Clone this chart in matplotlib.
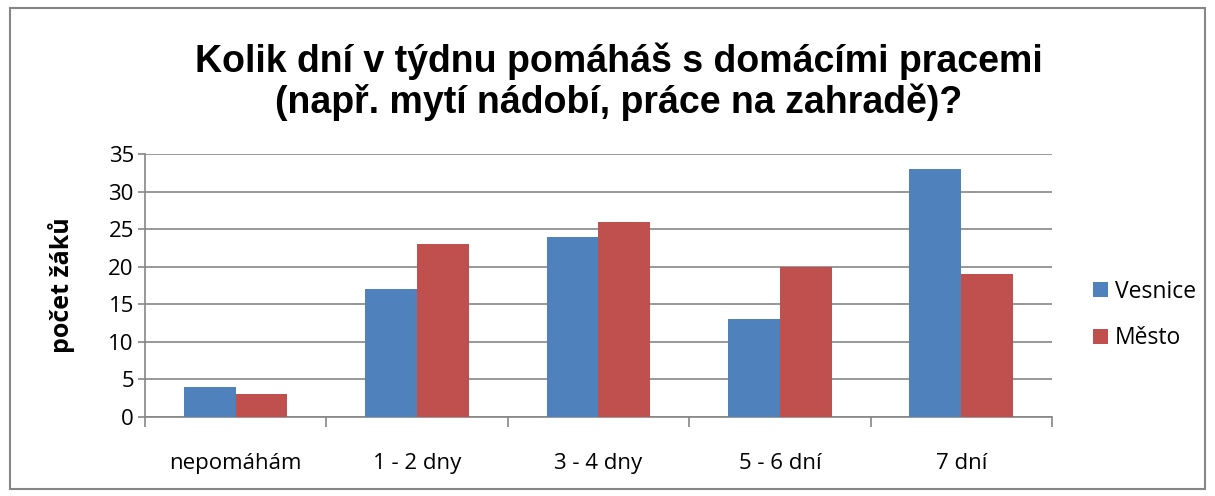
import numpy as np
import matplotlib.pyplot as plt
from matplotlib.patches import Rectangle

categories = ["nepomáhám", "1 - 2 dny", "3 - 4 dny", "5 - 6 dní", "7 dní"]
vesnice = [4, 17, 24, 13, 33]
mesto = [3, 23, 26, 20, 19]
y_ticks = [0, 5, 10, 15, 20, 25, 30, 35]

blue = "#4F81BD"
red = "#C0504D"
grey = "#868686"

plt.rcParams["font.family"] = ["Open Sans", "DejaVu Sans"]

fig = plt.figure(figsize=(12.15, 4.96), dpi=100)
fig.patches.append(Rectangle((0.008, 0.015), 0.984, 0.968, transform=fig.transFigure,
                             fill=False, edgecolor=grey, linewidth=1.5))

ax = fig.add_axes([0.1193, 0.1593, 0.7465, 0.5302])
x = np.arange(len(categories))
w = 0.2857
ax.bar(x - w / 2, vesnice, w, color=blue, label="Vesnice", zorder=3)
ax.bar(x + w / 2, mesto, w, color=red, label="Město", zorder=3)

ax.set_xlim(-0.5, len(categories) - 0.5)
ax.set_ylim(0, 35)
ax.set_yticks(y_ticks)
ax.yaxis.grid(True, color=grey, linewidth=1.2, zorder=0)
ax.set_xticks(np.arange(-0.5, len(categories)), minor=False)
ax.set_xticklabels([])
ax.set_xticks(x, minor=True)
ax.set_xticklabels(categories, minor=True, fontsize=16)
ax.tick_params(axis="x", which="major", length=7, color=grey, width=1.2)
ax.tick_params(axis="x", which="minor", length=0, pad=26)
ax.tick_params(axis="y", length=5, color=grey, width=1.2, labelsize=16, pad=3)

for s in ["top", "right"]:
    ax.spines[s].set_visible(False)
ax.spines["left"].set_color(grey)
ax.spines["bottom"].set_color(grey)
ax.spines["left"].set_linewidth(1.2)
ax.spines["bottom"].set_linewidth(1.2)

ax.set_ylabel("počet žáků", fontsize=18, fontweight="bold", labelpad=24)

fig.text(0.509, 0.835, "Kolik dní v týdnu pomáháš s domácími pracemi\n(např. mytí nádobí, práce na zahradě)?",
         ha="center", va="center", fontsize=27, fontweight="bold",
         family=["Liberation Sans", "DejaVu Sans"], linespacing=1.1)

fig.legend(loc="center left", bbox_to_anchor=(0.883, 0.365), frameon=False,
           fontsize=16.5, handlelength=0.65, handleheight=0.65, handletextpad=0.3,
           labelspacing=1.0)

fig.savefig("out.png", dpi=100)
